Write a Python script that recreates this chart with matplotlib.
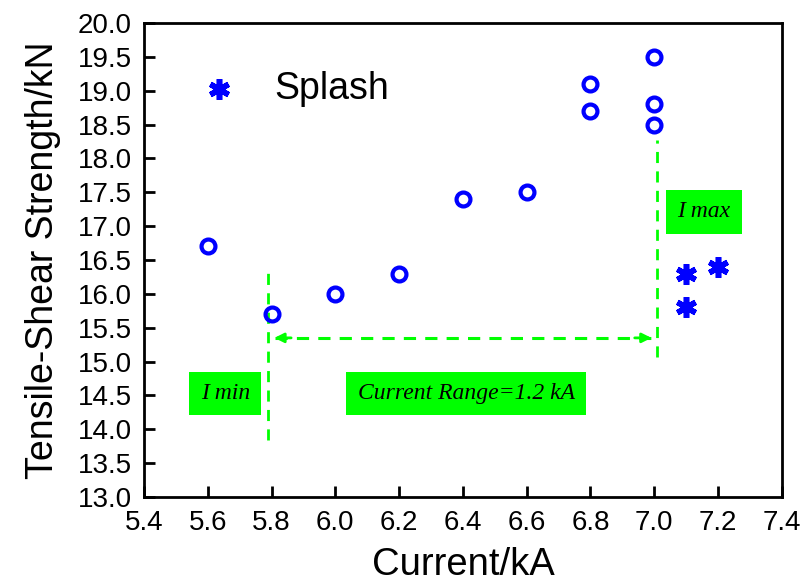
import matplotlib
matplotlib.use("Agg")
import matplotlib.pyplot as plt

plt.rcParams["font.family"] = ["Liberation Sans", "DejaVu Sans"]

BLUE = "#0000ff"
GREEN = "#00ff00"

# measured points (open circles)
ok_current = [5.6, 5.8, 6.0, 6.2, 6.4, 6.6, 6.8, 6.8, 7.0, 7.0, 7.0]
ok_strength = [16.7, 15.7, 16.0, 16.3, 17.4, 17.5, 19.1, 18.7, 19.5, 18.8, 18.5]

# splash points (asterisks)
splash_current = [7.1, 7.1, 7.2]
splash_strength = [16.3, 15.8, 16.4]

i_min = 5.79
i_max = 7.01

fig = plt.figure(figsize=(8.06, 5.82), dpi=100)
ax = fig.add_axes([0.1787, 0.146, 0.7913, 0.8145])

ax.plot(ok_current, ok_strength, "o", ms=10, mfc="none", mec=BLUE, mew=3,
        zorder=4)
star = (6, 2, 0)
ax.plot(splash_current, splash_strength, ls="none", marker=star, ms=15,
        mec=BLUE, mew=4, zorder=4)

# legend-like key
ax.plot([5.635], [19.03], ls="none", marker=star, ms=15, mec=BLUE, mew=4)
ax.text(5.81, 19.03, "Splash", fontsize=27, va="center", ha="left")

# current window
ax.plot([i_min, i_min], [13.84, 16.35], color=GREEN, lw=2, ls=(0, (4, 3)))
ax.plot([i_max, i_max], [15.07, 18.27], color=GREEN, lw=2, ls=(0, (4, 3)))
ax.plot([i_min + 0.02, i_max - 0.02], [15.35, 15.35], color=GREEN, lw=2.2,
        ls=(0, (4, 3)))
ax.annotate("", xy=(i_min + 0.01, 15.35), xytext=(i_min + 0.08, 15.35),
            arrowprops=dict(arrowstyle="-|>", color=GREEN, lw=2,
                            mutation_scale=14))
ax.annotate("", xy=(i_max - 0.01, 15.35), xytext=(i_max - 0.08, 15.35),
            arrowprops=dict(arrowstyle="-|>", color=GREEN, lw=2,
                            mutation_scale=14))

box = dict(boxstyle="square,pad=0.48", fc=GREEN, ec="none")
serif = ["Liberation Serif", "DejaVu Serif"]
ax.text(5.655, 14.53, "I min", family=serif, style="italic", fontsize=17,
        ha="center", va="center", bbox=box)
ax.text(6.41, 14.53, "Current Range=1.2 kA", family=serif, style="italic",
        fontsize=17, ha="center", va="center", bbox=box)
ax.text(7.155, 17.21, "I max", family=serif, style="italic", fontsize=17,
        ha="center", va="center", bbox=box)

ax.set_xlim(5.4, 7.4)
ax.set_ylim(13.0, 20.0)
ax.set_xticks([5.4 + 0.2 * i for i in range(11)])
ax.set_yticks([13.0 + 0.5 * i for i in range(15)])
ax.xaxis.set_major_formatter(lambda v, _: f"{v:.1f}")
ax.yaxis.set_major_formatter(lambda v, _: f"{v:.1f}")
ax.tick_params(direction="in", length=8, width=2, labelsize=20, pad=9)
for s in ax.spines.values():
    s.set_linewidth(2)

ax.set_xlabel("Current/kA", fontsize=27.5, labelpad=8)
ax.set_ylabel("Tensile-Shear Strength/kN", fontsize=27, labelpad=12)

fig.savefig("out.png", dpi=100)
